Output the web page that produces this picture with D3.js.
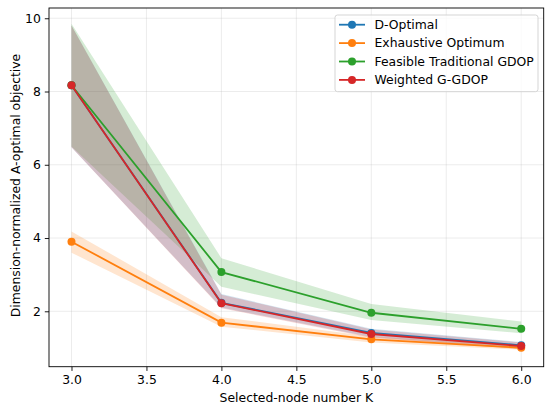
<!DOCTYPE html>
<html>
<head>
<meta charset="utf-8">
<script src="https://cdn.jsdelivr.net/npm/d3@7"></script>
<style>
  body { margin: 0; background: #fff; }
  text { font-family: "DejaVu Sans", sans-serif; fill: #000; }
</style>
</head>
<body>
<svg id="canvas" width="550" height="409"></svg>
<script>
let kValues = [3, 4, 5, 6];

let seriesNames = ["D-Optimal", "Exhaustive Optimum", "Feasible Traditional GDOP", "Weighted G-GDOP"];
let seriesColors = ["#1f77b4", "#ff7f0e", "#2ca02c", "#d62728"];

let dOptimalMean = [8.17, 2.23, 1.41, 1.07];
let dOptimalLow = [6.48, 2.1, 1.3, 0.98];
let dOptimalHigh = [9.8, 2.47, 1.52, 1.16];

let exhaustiveMean = [3.9, 1.69, 1.235, 1.005];
let exhaustiveLow = [3.6, 1.58, 1.15, 0.95];
let exhaustiveHigh = [4.18, 1.84, 1.31, 1.06];

let feasibleMean = [8.17, 3.07, 1.96, 1.52];
let feasibleLow = [6.5, 2.67, 1.76, 1.4];
let feasibleHigh = [9.85, 3.45, 2.2, 1.72];

let weightedMean = [8.17, 2.22, 1.38, 1.05];
let weightedLow = [6.48, 2.08, 1.28, 0.97];
let weightedHigh = [9.8, 2.45, 1.5, 1.15];

let xTicks = [3.0, 3.5, 4.0, 4.5, 5.0, 5.5, 6.0];
let yTicks = [2, 4, 6, 8, 10];

let means = [dOptimalMean, exhaustiveMean, feasibleMean, weightedMean];
let lows = [dOptimalLow, exhaustiveLow, feasibleLow, weightedLow];
let highs = [dOptimalHigh, exhaustiveHigh, feasibleHigh, weightedHigh];

let plotLeft = 49, plotRight = 543.7, plotTop = 8, plotBottom = 366.7;
let fontSize = "12.4px";

let svg = d3.select("#canvas");

let x = d3.scaleLinear().domain([2.85, 6.15]).range([plotLeft, plotRight]);
let y = d3.scaleLinear().domain([0.487, 10.28]).range([plotBottom, plotTop]);

// grid
svg.append("g")
  .selectAll("line")
  .data(xTicks)
  .enter()
  .append("line")
  .attr("x1", (d) => x(d)).attr("x2", (d) => x(d))
  .attr("y1", plotTop).attr("y2", plotBottom)
  .attr("stroke", "#b0b0b0").attr("stroke-opacity", 0.3).attr("stroke-width", 0.8);
svg.append("g")
  .selectAll("line")
  .data(yTicks)
  .enter()
  .append("line")
  .attr("x1", plotLeft).attr("x2", plotRight)
  .attr("y1", (d) => y(d)).attr("y2", (d) => y(d))
  .attr("stroke", "#b0b0b0").attr("stroke-opacity", 0.3).attr("stroke-width", 0.8);

let area = d3.area()
  .x((d) => x(d.k))
  .y0((d) => y(d.lo))
  .y1((d) => y(d.hi));

let line = d3.line()
  .x((d) => x(d.k))
  .y((d) => y(d.v));

seriesNames.forEach((name, i) => {
  let band = kValues.map((k, j) => ({ k: k, lo: lows[i][j], hi: highs[i][j] }));
  svg.append("path")
    .attr("d", area(band))
    .attr("fill", seriesColors[i])
    .attr("fill-opacity", 0.2);
});

seriesNames.forEach((name, i) => {
  let pts = kValues.map((k, j) => ({ k: k, v: means[i][j] }));
  svg.append("path")
    .attr("d", line(pts))
    .attr("fill", "none")
    .attr("stroke", seriesColors[i])
    .attr("stroke-width", 1.8);
  svg.append("g")
    .selectAll("circle")
    .data(pts)
    .enter()
    .append("circle")
    .attr("cx", (d) => x(d.k))
    .attr("cy", (d) => y(d.v))
    .attr("r", 4)
    .attr("fill", seriesColors[i]);
});

// axes
let xAxis = d3.axisBottom(x).tickValues(xTicks).tickFormat(d3.format(".1f")).tickSize(4.2).tickPadding(4);
let yAxis = d3.axisLeft(y).tickValues(yTicks).tickFormat(d3.format("d")).tickSize(4.2).tickPadding(4);

let gx = svg.append("g").attr("transform", `translate(0,${plotBottom})`).call(xAxis);
let gy = svg.append("g").attr("transform", `translate(${plotLeft},0)`).call(yAxis);
[gx, gy].forEach((g) => {
  g.select(".domain").remove();
  g.selectAll("line").attr("stroke", "#000").attr("stroke-width", 0.9);
  g.selectAll("text").attr("font-size", fontSize).attr("font-family", "DejaVu Sans").attr("fill", "#000");
});

svg.append("rect")
  .attr("x", plotLeft).attr("y", plotTop)
  .attr("width", plotRight - plotLeft).attr("height", plotBottom - plotTop)
  .attr("fill", "none").attr("stroke", "#000").attr("stroke-width", 0.9);

svg.append("text")
  .attr("x", (plotLeft + plotRight) / 2).attr("y", 402)
  .attr("text-anchor", "middle").attr("font-size", fontSize)
  .text("Selected-node number K");

svg.append("text")
  .attr("transform", `translate(20,185.5) rotate(-90)`)
  .attr("text-anchor", "middle").attr("font-size", fontSize)
  .text("Dimension-normalized A-optimal objective");

// legend
let legend = svg.append("g");
legend.append("rect")
  .attr("x", 335).attr("y", 15).attr("width", 203).attr("height", 76.7)
  .attr("rx", 2.5)
  .attr("fill", "#fff").attr("fill-opacity", 0.8)
  .attr("stroke", "#d0d0d0").attr("stroke-width", 0.9);
seriesNames.forEach((name, i) => {
  let ly = 24.7 + i * 18.4;
  legend.append("line")
    .attr("x1", 339).attr("x2", 365).attr("y1", ly).attr("y2", ly)
    .attr("stroke", seriesColors[i]).attr("stroke-width", 1.8);
  legend.append("circle")
    .attr("cx", 352).attr("cy", ly).attr("r", 4).attr("fill", seriesColors[i]);
  legend.append("text")
    .attr("x", 374.5).attr("y", ly).attr("dy", "0.35em")
    .attr("font-size", fontSize)
    .text(name);
});
</script>
</body>
</html>
